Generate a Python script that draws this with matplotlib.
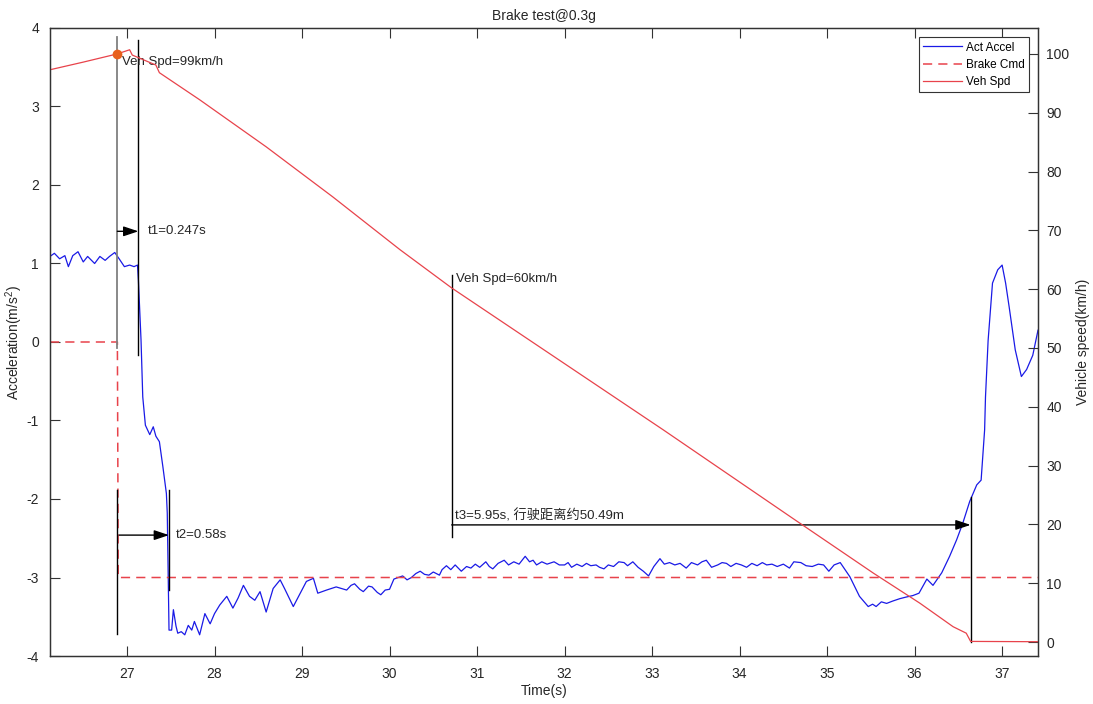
import matplotlib
matplotlib.use('Agg')
import matplotlib.pyplot as plt

plt.rcParams['font.family'] = ['Liberation Sans', 'Noto Sans CJK SC']
plt.rcParams['mathtext.fontset'] = 'custom'
plt.rcParams['mathtext.rm'] = 'Liberation Sans'
plt.rcParams['mathtext.it'] = 'Liberation Sans'
plt.rcParams['axes.unicode_minus'] = False

# acceleration (m/s^2)
accel_t = [26.12, 26.17, 26.23, 26.29, 26.33, 26.38, 26.44, 26.50, 26.55, 26.63,
           26.69, 26.75, 26.80, 26.86, 26.91, 26.97, 27.03, 27.08, 27.12, 27.13,
           27.16, 27.18, 27.21, 27.26, 27.30, 27.33, 27.37, 27.41, 27.45, 27.46,
           27.47, 27.48, 27.51, 27.53, 27.56, 27.58, 27.62, 27.66, 27.70, 27.74,
           27.77, 27.83, 27.89, 27.95, 28.00, 28.06, 28.14, 28.21, 28.27, 28.33,
           28.40, 28.46, 28.52, 28.59, 28.67, 28.75, 28.80, 28.90, 28.97, 29.05,
           29.13, 29.18, 29.28, 29.39, 29.51, 29.56, 29.60, 29.66, 29.70, 29.76,
           29.80, 29.86, 29.90, 29.95, 30.00, 30.05, 30.10, 30.15, 30.20, 30.25,
           30.30, 30.35, 30.40, 30.45, 30.50, 30.57, 30.60, 30.65, 30.70, 30.75,
           30.82, 30.88, 30.93, 30.98, 31.03, 31.10, 31.14, 31.18, 31.24, 31.31,
           31.36, 31.42, 31.48, 31.55, 31.60, 31.64, 31.68, 31.74, 31.80, 31.88,
           31.94, 32.00, 32.04, 32.08, 32.14, 32.20, 32.25, 32.30, 32.36, 32.40,
           32.45, 32.50, 32.56, 32.62, 32.68, 32.72, 32.78, 32.84, 32.90, 32.96,
           33.02, 33.09, 33.14, 33.20, 33.26, 33.32, 33.39, 33.45, 33.52, 33.57,
           33.62, 33.68, 33.75, 33.80, 33.85, 33.90, 33.96, 34.02, 34.08, 34.14,
           34.20, 34.26, 34.31, 34.37, 34.43, 34.50, 34.57, 34.62, 34.70, 34.76,
           34.83, 34.90, 34.96, 35.02, 35.08, 35.15, 35.26, 35.37, 35.47, 35.52,
           35.56, 35.62, 35.68, 35.75, 35.83, 35.90, 35.98, 36.05, 36.14, 36.21,
           36.31, 36.40, 36.48, 36.55, 36.63, 36.71, 36.76, 36.80, 36.81, 36.84,
           36.89, 36.95, 37.00, 37.04, 37.08, 37.15, 37.22, 37.28, 37.35, 37.41]
accel = [1.09, 1.13, 1.06, 1.10, 0.96, 1.10, 1.15, 1.02, 1.09, 1.00,
         1.09, 1.04, 1.09, 1.14, 1.06, 0.96, 0.98, 0.96, 0.98, 0.79,
         0.03, -0.70, -1.06, -1.18, -1.08, -1.20, -1.27, -1.59, -1.93, -2.18,
         -2.90, -3.67, -3.67, -3.41, -3.62, -3.71, -3.69, -3.73, -3.61, -3.67,
         -3.56, -3.73, -3.46, -3.59, -3.46, -3.35, -3.24, -3.39, -3.26, -3.10,
         -3.24, -3.29, -3.18, -3.44, -3.14, -3.03, -3.14, -3.37, -3.22, -3.05,
         -3.01, -3.20, -3.16, -3.12, -3.16, -3.10, -3.08, -3.15, -3.18, -3.11,
         -3.12, -3.19, -3.22, -3.16, -3.15, -3.02, -3.00, -2.98, -3.03, -3.00,
         -2.95, -2.92, -2.96, -2.97, -2.93, -2.97, -2.90, -2.85, -2.90, -2.84,
         -2.92, -2.86, -2.88, -2.83, -2.87, -2.80, -2.86, -2.89, -2.82, -2.78,
         -2.84, -2.80, -2.83, -2.73, -2.80, -2.78, -2.84, -2.80, -2.83, -2.80,
         -2.84, -2.84, -2.81, -2.87, -2.83, -2.86, -2.82, -2.85, -2.84, -2.87,
         -2.89, -2.84, -2.86, -2.80, -2.81, -2.85, -2.80, -2.87, -2.92, -2.98,
         -2.86, -2.76, -2.83, -2.81, -2.84, -2.82, -2.88, -2.81, -2.84, -2.80,
         -2.78, -2.87, -2.84, -2.81, -2.82, -2.86, -2.82, -2.84, -2.87, -2.82,
         -2.85, -2.81, -2.84, -2.83, -2.86, -2.83, -2.88, -2.80, -2.81, -2.85,
         -2.86, -2.83, -2.84, -2.92, -2.84, -2.81, -2.99, -3.24, -3.37, -3.34,
         -3.37, -3.31, -3.33, -3.30, -3.27, -3.25, -3.23, -3.20, -3.02, -3.10,
         -2.94, -2.73, -2.52, -2.31, -2.03, -1.82, -1.76, -1.12, -0.70, 0.02,
         0.75, 0.92, 0.98, 0.75, 0.45, -0.10, -0.44, -0.35, -0.17, 0.15]

# brake command (m/s^2)
brake_t = [26.12, 26.89, 26.90, 37.41]
brake = [0.0, 0.0, -3.0, -3.0]

# vehicle speed (km/h)
speed_t = [26.12, 26.50, 26.89, 27.03, 27.06, 27.33, 27.37, 27.83, 28.59, 29.35,
           30.12, 30.71, 33.13, 34.61, 35.53, 36.06, 36.44, 36.59, 36.64, 37.41]
speed = [97.3, 98.6, 100.0, 100.7, 99.8, 98.1, 96.8, 92.2, 84.2, 75.7,
         66.7, 60.2, 36.05, 21.0, 11.7, 6.6, 2.6, 1.5, 0.1, 0.05]

# event times
t_start = 26.89
t1_end = 27.13
t2_end = 27.48
t_60 = 30.71
t_stop = 36.64

blue = '#1a1ae6'
red = '#e8434b'

fig = plt.figure(figsize=(10.93, 7.04), dpi=100)
ax = fig.add_axes([50 / 1093, 1 - 656 / 704, 988 / 1093, 628 / 704])
ax2 = ax.twinx()

l1, = ax.plot(accel_t, accel, color=blue, lw=0.9, label='Act Accel')
l2, = ax.plot(brake_t, brake, color=red, lw=1.1, ls=(0, (6, 4)), label='Brake Cmd')
l3, = ax2.plot(speed_t, speed, color=red, lw=0.9, label='Veh Spd')
ax2.plot(t_start, 100.0, 'o', color='#e8601c', ms=6)

# marker lines
ax.plot([t_start, t_start], [3.88, -0.08], color='#808080', lw=1.3)
ax.plot([t1_end, t1_end], [3.85, -0.17], color='k', lw=1)
ax.plot([t_start, t_start], [-1.88, -3.72], color='k', lw=1)
ax.plot([t2_end, t2_end], [-1.88, -3.16], color='k', lw=1)
ax.plot([t_60, t_60], [0.85, -2.48], color='k', lw=1)
ax.plot([t_stop, t_stop], [-1.97, -3.82], color='k', lw=1)

arrow = dict(arrowstyle='-|>,head_length=0.9,head_width=0.3', color='k', lw=1,
             shrinkA=0, shrinkB=0)
ax.annotate('', xy=(t1_end, 1.41), xytext=(t_start, 1.41), arrowprops=arrow)
ax.annotate('', xy=(t2_end, -2.46), xytext=(t_start + 0.02, -2.46), arrowprops=arrow)
ax.annotate('', xy=(t_stop, -2.33), xytext=(t_60, -2.33), arrowprops=arrow)

tc = '#262626'
ax.text(27.24, 1.41, 't1=0.247s', fontsize=9.5, va='center', color=tc)
ax.text(27.56, -2.46, 't2=0.58s', fontsize=9.5, va='center', color=tc)
ax.text(t_60 + 0.05, 0.80, 'Veh Spd=60km/h', fontsize=9.5, va='center', color=tc)
ax.text(26.94, 3.57, 'Veh Spd=99km/h', fontsize=9.5, va='center', color=tc)
ax.text(t_60 + 0.04, -2.22, 't3=5.95s, 行驶距离约50.49m', fontsize=9.5, va='center', color=tc)

ax.set_xlim(26.12, 37.41)
ax.set_ylim(-4, 4)
ax2.set_ylim(-2.38, 104.4)
ax.set_xticks(range(27, 38))
ax.set_yticks(range(-4, 5))
ax2.set_yticks(range(0, 101, 10))

for a in (ax, ax2):
    for s in a.spines.values():
        s.set_color('#333333')
        s.set_linewidth(0.9)
ax.tick_params(axis='both', direction='in', length=7, width=0.8, colors='#333333',
               labelsize=10, labelcolor=tc)
ax.tick_params(axis='x', top=True, pad=8)
ax.tick_params(axis='y', pad=8)
ax2.tick_params(axis='y', direction='in', length=7, width=0.8, colors='#333333',
                labelsize=10, labelcolor=tc, pad=6)

ax.set_xlabel('Time(s)', fontsize=10, color=tc, labelpad=2)
ax.set_ylabel('Acceleration(m/s$^{2}$)', fontsize=10, color=tc)
ax.yaxis.set_label_coords(-0.0255, 0.5)
ax2.set_ylabel('Vehicle speed(km/h)', fontsize=10, color=tc, labelpad=5)
ax.set_title('Brake test@0.3g', fontsize=10, color=tc, pad=6)

leg = ax2.legend(handles=[l1, l2, l3], loc='upper right', fontsize=8.5,
                 fancybox=False, framealpha=1, edgecolor='#333333',
                 borderpad=0.35, labelspacing=0.45, handlelength=3.3,
                 handletextpad=0.3, borderaxespad=0.8)
leg.get_frame().set_linewidth(0.8)

fig.savefig('out.png', dpi=100)
